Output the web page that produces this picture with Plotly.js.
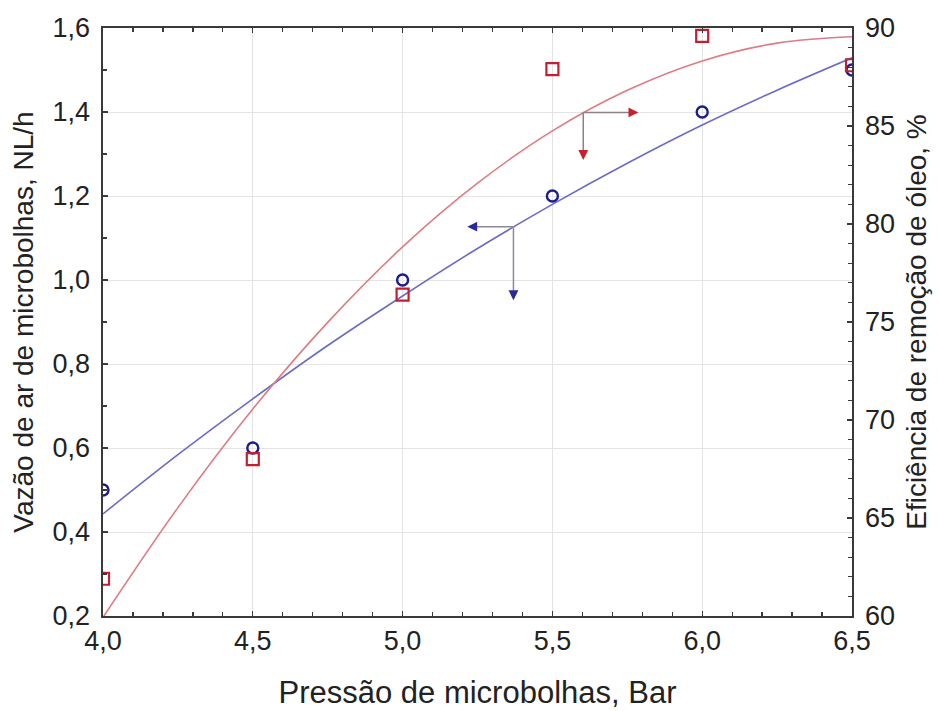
<!DOCTYPE html>
<html>
<head>
<meta charset="utf-8">
<script src="https://cdn.plot.ly/plotly-3.0.1.min.js"></script>
<style>html,body{margin:0;padding:0;background:#fff;}#chart{width:939px;height:711px;}</style>
</head>
<body>
<div id="chart"></div>
<script>
// Measured data points
const pressure = [4.0, 4.5, 5.0, 5.5, 6.0, 6.5];
const airFlow = [0.50, 0.60, 1.00, 1.20, 1.40, 1.50];        // left axis, NL/h
const oilRemoval = [61.9, 68.0, 76.4, 87.9, 89.6, 88.1];     // right axis, %

// Fitted curves
const fitX = [4.0, 4.25, 4.5, 4.75, 5.0, 5.25, 5.5, 5.75, 6.0, 6.25, 6.5];
const airFit = [0.443, 0.584, 0.717, 0.844, 0.962, 1.075, 1.180, 1.278, 1.369, 1.452, 1.529];
const oilFit = [59.93, 65.53, 70.56, 74.98, 78.83, 82.08, 84.75, 86.82, 88.32, 89.23, 89.55];

// Arrow indicator positions (data coordinates)
const redArrow = {x: 5.603, y: 1.399, xTip: 5.787, yTip: 1.286};
const blueArrow = {x: 5.370, y: 1.127, xTip: 5.216, yTip: 0.952};

const axisColor = '#3a3a3a';
const font = {family: 'Liberation Sans, Arial, sans-serif', color: '#222'};

const traces = [
  {x: fitX, y: airFit, mode: 'lines', line: {color: '#6b6bc9', width: 1.6, shape: 'spline'}, yaxis: 'y', hoverinfo: 'skip'},
  {x: fitX, y: oilFit, mode: 'lines', line: {color: '#de7b84', width: 1.6, shape: 'spline'}, yaxis: 'y2', hoverinfo: 'skip'},
  {x: pressure, y: airFlow, mode: 'markers', yaxis: 'y',
   marker: {symbol: 'circle-open', size: 11, color: '#1c1c8f', line: {width: 2.4, color: '#1c1c8f'}}},
  {x: pressure, y: oilRemoval, mode: 'markers', yaxis: 'y2',
   marker: {symbol: 'square-open', size: 12, color: '#c22030', line: {width: 2.2, color: '#c22030'}}}
];

const shapes = [
  {type: 'line', xref: 'x', yref: 'y', x0: redArrow.x, y0: redArrow.y, x1: redArrow.xTip - 0.02, y1: redArrow.y, line: {color: '#8e8088', width: 1.5}},
  {type: 'line', xref: 'x', yref: 'y', x0: redArrow.x, y0: redArrow.y, x1: redArrow.x, y1: redArrow.yTip + 0.01, line: {color: '#8e8088', width: 1.5}},
  {type: 'line', xref: 'x', yref: 'y', x0: blueArrow.x, y0: blueArrow.y, x1: blueArrow.xTip + 0.02, y1: blueArrow.y, line: {color: '#8a8a9c', width: 1.5}},
  {type: 'line', xref: 'x', yref: 'y', x0: blueArrow.x, y0: blueArrow.y, x1: blueArrow.x, y1: blueArrow.yTip + 0.01, line: {color: '#8a8a9c', width: 1.5}}
];

function head(x, y, ax, ay, color) {
  return {x: x, y: y, xref: 'x', yref: 'y', text: '', showarrow: true, ax: ax, ay: ay,
          arrowhead: 2, arrowsize: 1.1, arrowwidth: 1.8, arrowcolor: color, standoff: 0};
}
const annotations = [
  head(redArrow.xTip, redArrow.y, -9, 0, '#c8202e'),
  head(redArrow.x, redArrow.yTip, 0, -9, '#c8202e'),
  head(blueArrow.xTip, blueArrow.y, 9, 0, '#2a2a96'),
  head(blueArrow.x, blueArrow.yTip, 0, -9, '#2a2a96')
];

const layout = {
  width: 939, height: 711,
  margin: {l: 103, r: 87, t: 28, b: 95},
  paper_bgcolor: '#fff', plot_bgcolor: '#fff',
  showlegend: false,
  separators: ',.',
  font: font,
  xaxis: {
    range: [4.0, 6.5], dtick: 0.5, tick0: 4.0, tickformat: '.1f',
    ticks: 'inside', ticklen: 5, tickwidth: 1.3, tickcolor: axisColor,
    minor: {dtick: 0.1, ticks: 'inside', ticklen: 4, tickcolor: axisColor, showgrid: false},
    showline: true, linecolor: axisColor, linewidth: 1.6, mirror: 'ticks',
    showgrid: true, gridcolor: '#e4e4e4', gridwidth: 1, zeroline: false,
    tickfont: {size: 27, color: '#222'},
    title: {text: 'Pressão de microbolhas, Bar', font: {size: 31, color: '#222'}, standoff: 26}
  },
  yaxis: {
    range: [0.2, 1.6], dtick: 0.2, tick0: 0.2, tickformat: '.1f',
    ticks: 'inside', ticklen: 5, tickwidth: 1.3, tickcolor: axisColor,
    minor: {dtick: 0.1, ticks: 'inside', ticklen: 4, tickcolor: axisColor, showgrid: false},
    showline: true, linecolor: axisColor, linewidth: 1.6,
    showgrid: true, gridcolor: '#e4e4e4', gridwidth: 1, zeroline: false,
    ticklabelstandoff: 6,
    tickfont: {size: 27, color: '#222'},
    title: {text: 'Vazão de ar de microbolhas, NL/h', font: {size: 28, color: '#222'}, standoff: 10}
  },
  yaxis2: {
    range: [60, 90], dtick: 5, tick0: 60, overlaying: 'y', side: 'right',
    ticks: 'inside', ticklen: 5, tickwidth: 1.3, tickcolor: axisColor,
    minor: {dtick: 1, ticks: 'inside', ticklen: 4, tickcolor: axisColor, showgrid: false},
    showline: true, linecolor: axisColor, linewidth: 1.6,
    showgrid: false, zeroline: false,
    ticklabelstandoff: 6,
    tickfont: {size: 27, color: '#222'},
    title: {text: 'Eficiência de remoção de óleo, %', font: {size: 28, color: '#222'}, standoff: 12}
  },
  shapes: shapes,
  annotations: annotations
};

Plotly.newPlot('chart', traces, layout, {displayModeBar: false, staticPlot: true});
</script>
</body>
</html>
